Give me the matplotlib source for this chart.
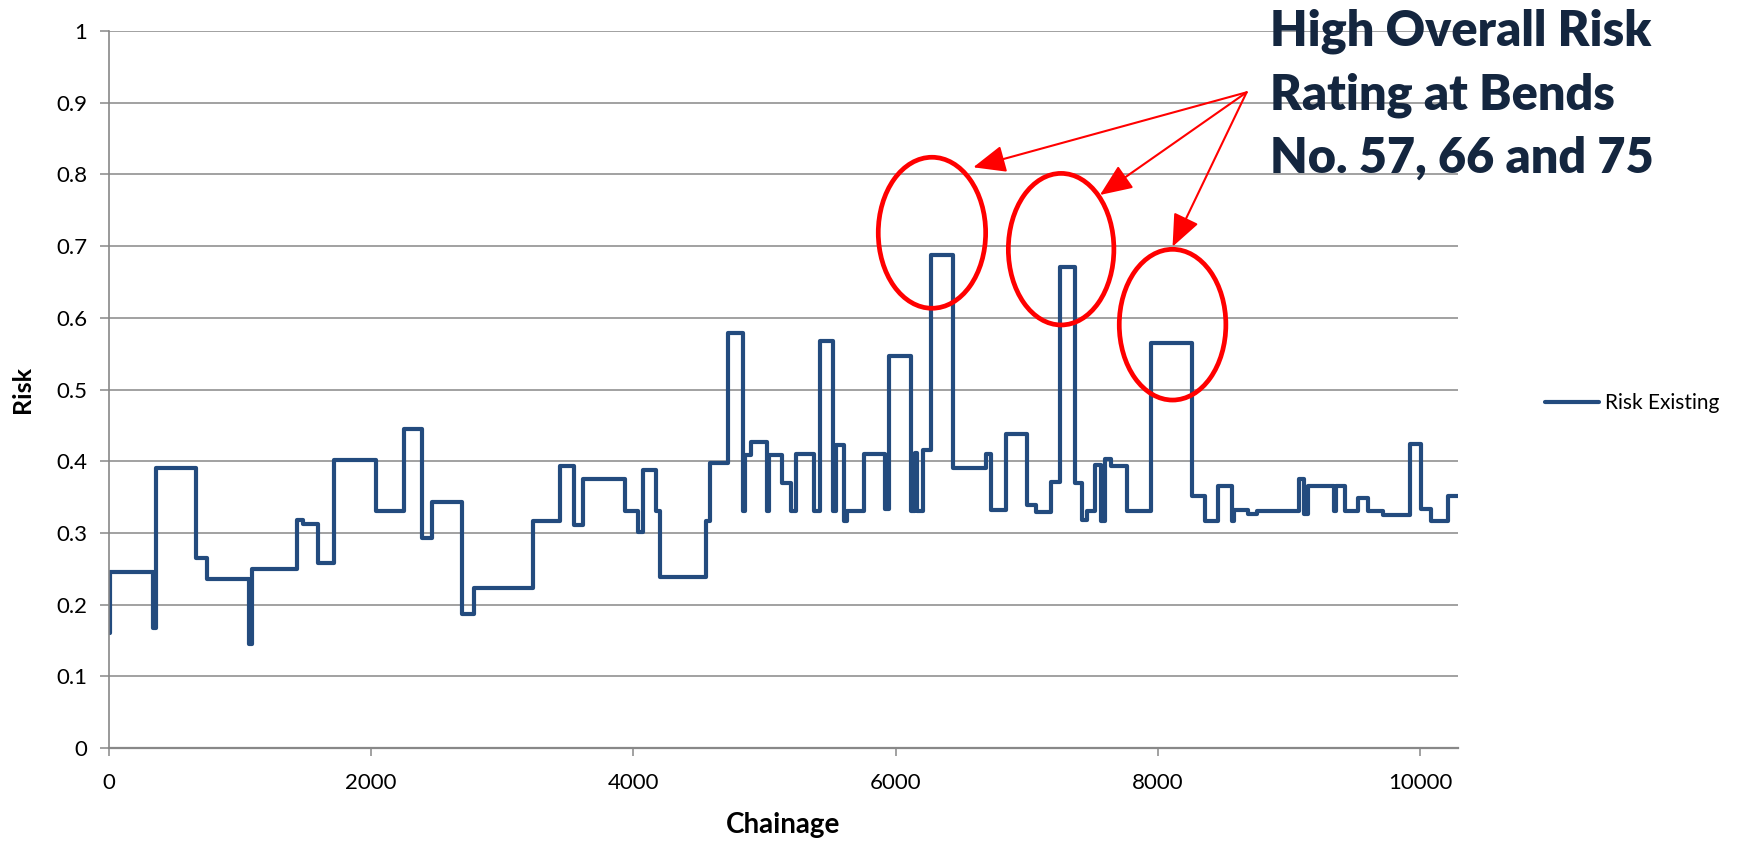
import matplotlib
matplotlib.use("Agg")
import matplotlib.pyplot as plt
from matplotlib.patches import Ellipse

# Chainage at which each risk level starts (step profile along the route)
chainage = [0, 12, 340, 358, 663, 752, 1073, 1090, 1439, 1480, 1592, 1721, 2040,
            2254, 2388, 2465, 2694, 2783, 3236, 3439, 3546, 3618, 3935, 4037, 4075,
            4175, 4203, 4556, 4584, 4721, 4839, 4852, 4900, 5017, 5035, 5137, 5200,
            5243, 5378, 5421, 5522, 5548, 5607, 5633, 5760, 5918, 5950, 6121, 6145,
            6167, 6208, 6269, 6435, 6693, 6730, 6845, 7000, 7075, 7187, 7252, 7371,
            7424, 7459, 7525, 7567, 7599, 7643, 7765, 7948, 8261, 8363, 8462, 8564,
            8584, 8686, 8757, 9075, 9118, 9144, 9347, 9360, 9429, 9531, 9602, 9717,
            9927, 10004, 10086, 10213, 10300]
risk_existing = [0.160, 0.245, 0.167, 0.390, 0.265, 0.236, 0.145, 0.249, 0.318, 0.312,
                 0.258, 0.401, 0.331, 0.445, 0.293, 0.343, 0.187, 0.223, 0.316, 0.393,
                 0.311, 0.375, 0.331, 0.301, 0.388, 0.330, 0.238, 0.316, 0.397, 0.579,
                 0.331, 0.409, 0.427, 0.331, 0.409, 0.370, 0.331, 0.410, 0.331, 0.568,
                 0.331, 0.423, 0.316, 0.331, 0.410, 0.333, 0.547, 0.331, 0.412, 0.331,
                 0.416, 0.688, 0.391, 0.410, 0.332, 0.438, 0.339, 0.329, 0.371, 0.671,
                 0.369, 0.318, 0.331, 0.395, 0.316, 0.403, 0.394, 0.331, 0.565, 0.351,
                 0.316, 0.365, 0.317, 0.332, 0.326, 0.331, 0.375, 0.327, 0.365, 0.331,
                 0.365, 0.331, 0.348, 0.331, 0.325, 0.424, 0.334, 0.317, 0.351, 0.351]

x_ticks = [0, 2000, 4000, 6000, 8000, 10000]
y_ticks = [0, 0.1, 0.2, 0.3, 0.4, 0.5, 0.6, 0.7, 0.8, 0.9, 1]
y_tick_labels = ["0", "0.1", "0.2", "0.3", "0.4", "0.5", "0.6", "0.7", "0.8", "0.9", "1"]

# Highlighted bends: ellipse centre (chainage, risk), width, height
bend_centres = [(6278, 0.7186), (7263, 0.6957), (8113, 0.5904)]
bend_sizes = [(819, 0.2106), (805, 0.2114), (813, 0.2102)]
arrow_origin = (8678, 0.9145)
arrow_tips = [(6593, 0.8099), (7559, 0.7713), (8113, 0.6992)]
callout_lines = ["High Overall Risk", "Rating at Bends", "No. 57, 66 and 75"]

LINE_BLUE = "#234b7e"
GRID_GREY = "#888888"
TEXT_NAVY = "#14263f"
FONT = ["Lato", "DejaVu Sans"]

W, H = 1741, 842
fig = plt.figure(figsize=(W / 100, H / 100), dpi=100)
ax = fig.add_axes([108.8 / W, 1 - 748 / H, (1458 - 108.8) / W, (748 - 31) / H])

line, = ax.step(chainage, risk_existing, where="post", color=LINE_BLUE, lw=3.0,
                solid_joinstyle="round", solid_capstyle="round", label="Risk Existing")

ax.set_xlim(0, 10290)
ax.set_ylim(0, 1)
ax.set_xticks(x_ticks)
ax.set_xticklabels([str(t) for t in x_ticks])
ax.set_yticks(y_ticks)
ax.set_yticklabels(y_tick_labels)

ax.yaxis.grid(True, color=GRID_GREY, lw=1.1)
ax.set_axisbelow(True)
for side in ("top", "right"):
    ax.spines[side].set_visible(False)
for side in ("left", "bottom"):
    ax.spines[side].set_color(GRID_GREY)
    ax.spines[side].set_linewidth(1.2)
ax.spines["bottom"].set_linewidth(1.6)

ax.tick_params(axis="y", length=6.5, width=1.1, color=GRID_GREY, pad=9,
               labelsize=16, labelcolor="black")
ax.tick_params(axis="x", length=5.8, width=1.1, color=GRID_GREY, pad=12,
               labelsize=16, labelcolor="black")
for lbl in ax.get_xticklabels() + ax.get_yticklabels():
    lbl.set_fontfamily(FONT)

ax.set_xlabel("Chainage", fontsize=20, fontweight="bold", family=FONT, labelpad=14)
ax.set_ylabel("Risk", fontsize=18, fontweight="bold", family=FONT)
ax.yaxis.set_label_coords(-(108.8 - 23) / (1458 - 108.8), 0.5)
ax.xaxis.set_label_coords(0.5, -(825 - 748) / (748 - 31))
ax.xaxis.label.set_va("center")
ax.yaxis.label.set_va("center")

# Ellipses marking the high-risk bends and the arrows pointing at them
for (cx, cy), (ew, eh) in zip(bend_centres, bend_sizes):
    ax.add_patch(Ellipse((cx, cy), ew, eh, fill=False, ec="red", lw=3.4,
                         clip_on=False, zorder=4))
for tip in arrow_tips:
    ax.annotate("", xy=tip, xytext=arrow_origin,
                arrowprops=dict(arrowstyle="-|>,head_length=1.0,head_width=0.42",
                                mutation_scale=20, color="red", lw=1.5,
                                shrinkA=0, shrinkB=0),
                annotation_clip=False, zorder=5)

for i, text in enumerate(callout_lines):
    fig.text(1270 / W, 1 - (45 + 64 * i) / H, text, ha="left", va="baseline",
             fontsize=35, fontweight="heavy", color=TEXT_NAVY, family=FONT)

leg = ax.legend(handles=[line], loc="center left",
                bbox_to_anchor=(1545 / W, 1 - 403 / H), bbox_transform=fig.transFigure,
                frameon=False, borderpad=0, borderaxespad=0, handlelength=2.6,
                handletextpad=0.3, prop={"family": FONT, "size": 15})

fig.savefig("out.png", dpi=100, facecolor="white")
